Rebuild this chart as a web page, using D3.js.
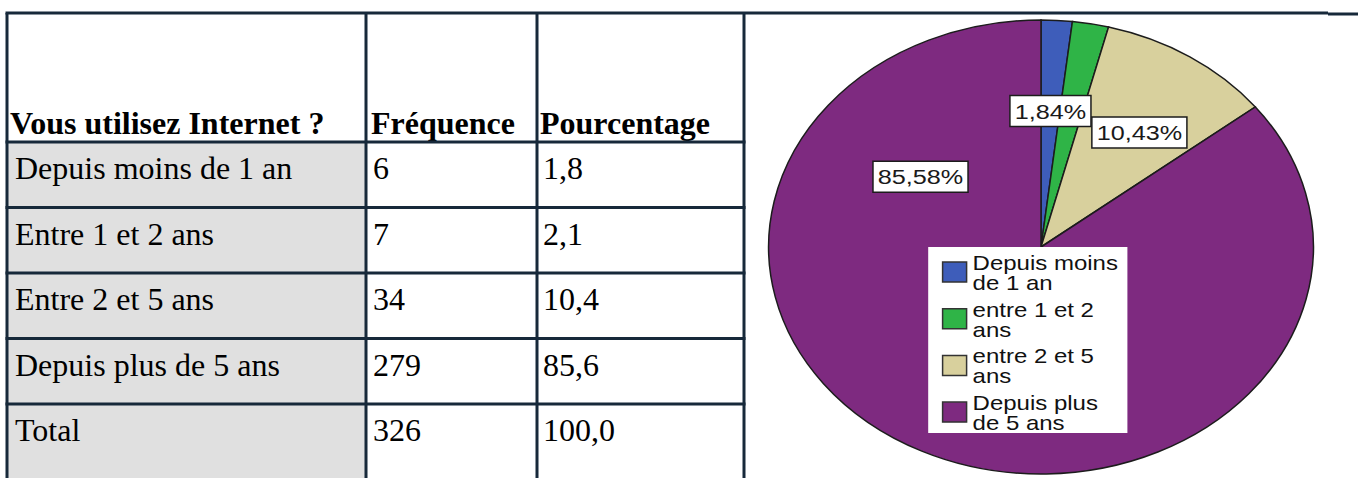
<!DOCTYPE html>
<html>
<head>
<meta charset="utf-8">
<script src="https://cdn.jsdelivr.net/npm/d3@7"></script>
<style>
  body { margin: 0; background: #fff; }
  svg { display: block; }
</style>
</head>
<body>
<div id="chart"></div>
<script>
// Data
const headers = ["Vous utilisez Internet ?", "Fréquence", "Pourcentage"];
const categories = ["Depuis moins de 1 an", "Entre 1 et 2 ans", "Entre 2 et 5 ans", "Depuis plus de 5 ans"];
const frequencies = [6, 7, 34, 279];
const percentages = ["1,8", "2,1", "10,4", "85,6"];
const totalRow = ["Total", "326", "100,0"];
const pieLabels = ["1,84%", null, "10,43%", "85,58%"];
const legendLabels = [["Depuis moins", "de 1 an"], ["entre 1 et 2", "ans"], ["entre 2 et 5", "ans"], ["Depuis plus", "de 5 ans"]];
const sliceColors = ["#3e5dba", "#2fb447", "#d8d09d", "#7e2a80"];

const W = 1358, H = 478;
const lineColor = "#17293a";

const svg = d3.select("#chart").append("svg")
    .attr("width", W).attr("height", H);

// ---------- Table ----------
const colEdges = [7, 366, 537, 744];
const headerTop = 13, headerBottom = 142, rowH = 65.5;

const rows = categories.map((c, i) => [c, String(frequencies[i]), percentages[i]]).concat([totalRow]);

const y = d3.scaleBand()
    .domain(d3.range(rows.length))
    .range([headerBottom, headerBottom + rowH * rows.length])
    .padding(0);

const table = svg.append("g").attr("class", "table");

// grey first column background
table.selectAll("rect.cell-bg")
    .data(rows)
    .join("rect")
    .attr("class", "cell-bg")
    .attr("x", colEdges[0])
    .attr("y", (d, i) => y(i))
    .attr("width", colEdges[1] - colEdges[0])
    .attr("height", (d, i) => i === rows.length - 1 ? H - y(i) : y.bandwidth())
    .attr("fill", "#e0e0e0");

// header text
const headerX = [10, 371, 540];
table.selectAll("text.head")
    .data(headers)
    .join("text")
    .attr("class", "head")
    .attr("x", (d, i) => headerX[i])
    .attr("y", headerBottom - 8)
    .attr("font-family", "'Liberation Serif', 'Times New Roman', serif")
    .attr("font-size", 32)
    .attr("font-weight", "bold")
    .attr("fill", "#000")
    .text(d => d);

// body text
const bodyX = [15, 373, 543];
rows.forEach((r, i) => {
    table.selectAll(null)
        .data(r)
        .join("text")
        .attr("x", (d, j) => bodyX[j])
        .attr("y", y(i) + 37)
        .attr("font-family", "'Liberation Serif', 'Times New Roman', serif")
        .attr("font-size", 32)
        .attr("fill", "#000")
        .text(d => d);
});

// grid lines
const hLines = [headerBottom].concat(d3.range(1, rows.length).map(i => y(i)));
table.selectAll("line.h")
    .data(hLines)
    .join("line")
    .attr("x1", colEdges[0] - 1.5).attr("x2", colEdges[3] + 1.5)
    .attr("y1", d => d).attr("y2", d => d)
    .attr("stroke", lineColor).attr("stroke-width", 3);

table.selectAll("line.v")
    .data(colEdges)
    .join("line")
    .attr("x1", d => d).attr("x2", d => d)
    .attr("y1", headerTop).attr("y2", H)
    .attr("stroke", lineColor).attr("stroke-width", 3);

// top rule runs across the whole page
svg.append("line")
    .attr("x1", colEdges[0] - 1.5).attr("x2", 1328)
    .attr("y1", headerTop).attr("y2", headerTop)
    .attr("stroke", lineColor).attr("stroke-width", 3);
svg.append("line")
    .attr("x1", 1328).attr("x2", W)
    .attr("y1", headerTop + 1).attr("y2", headerTop + 1)
    .attr("stroke", lineColor).attr("stroke-width", 3);

// ---------- Pie ----------
const cx = 1041, cy = 247, R = 227, stretch = 1.2;

const pie = d3.pie().sort(null).value(d => d);
const arcs = pie(frequencies);
const arc = d3.arc().innerRadius(0).outerRadius(R);

const pieG = svg.append("g")
    .attr("transform", `translate(${cx},${cy}) scale(${stretch},1)`);

pieG.selectAll("path")
    .data(arcs)
    .join("path")
    .attr("d", arc)
    .attr("fill", (d, i) => sliceColors[i])
    .attr("stroke", "#1c1c1c")
    .attr("stroke-width", 1.5)
    .attr("vector-effect", "non-scaling-stroke");

// labels: small slices near their mid angle, the big one placed in the upper left
const labelPos = (d, i) => {
    let a = (d.startAngle + d.endAngle) / 2, r = 0.6 * R;
    if (i === 2) { a += 2.5 * Math.PI / 180; r = 0.62 * R; }
    if (i === 3) { a = -55 * Math.PI / 180; r = 0.54 * R; }
    return [Math.sin(a) * r, -Math.cos(a) * r];
};

const labelG = pieG.selectAll("g.lbl")
    .data(arcs.filter((d, i) => pieLabels[i]))
    .join("g")
    .attr("class", "lbl")
    .attr("transform", d => `translate(${labelPos(d, d.index)})`);

labelG.append("rect").attr("fill", "#fff").attr("stroke", "#1c1c1c")
    .attr("stroke-width", 1.5).attr("vector-effect", "non-scaling-stroke");
labelG.append("text")
    .attr("text-anchor", "middle")
    .attr("dy", "0.36em")
    .attr("font-family", "'Liberation Sans', Arial, sans-serif")
    .attr("font-size", 21)
    .attr("fill", "#1a1a1a")
    .text(d => pieLabels[d.index]);
labelG.each(function () {
    const g = d3.select(this);
    const w = g.select("text").node().getComputedTextLength() + 8;
    g.select("rect").attr("x", -w / 2).attr("y", -15.5).attr("width", w).attr("height", 31);
});

// legend
const legend = pieG.append("g").attr("transform", "translate(-94,0)");
legend.append("rect")
    .attr("width", 166).attr("height", 186)
    .attr("fill", "#fff");

const itemGap = 46.7;
const items = legend.selectAll("g.item")
    .data(legendLabels)
    .join("g")
    .attr("class", "item")
    .attr("transform", (d, i) => `translate(0,${23 + i * itemGap})`);

items.append("rect")
    .attr("x", 12).attr("y", -8)
    .attr("width", 20).attr("height", 20)
    .attr("fill", (d, i) => sliceColors[i])
    .attr("stroke", "#333")
    .attr("stroke-width", 1.5)
    .attr("vector-effect", "non-scaling-stroke");

items.selectAll("text")
    .data(d => d)
    .join("text")
    .attr("x", 37)
    .attr("y", (d, j) => j * 20)
    .attr("font-family", "'Liberation Sans', Arial, sans-serif")
    .attr("font-size", 20)
    .attr("fill", "#111")
    .text(d => d);
</script>
</body>
</html>
